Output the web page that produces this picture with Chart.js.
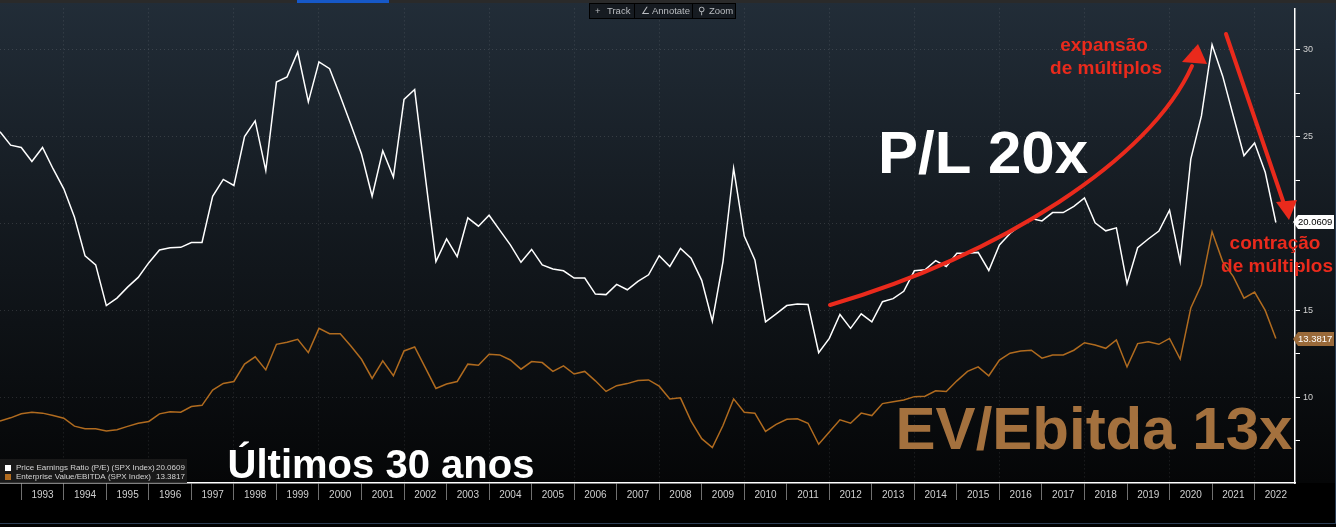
<!DOCTYPE html>
<html>
<head>
<meta charset="utf-8">
<script src="https://cdn.jsdelivr.net/npm/chart.js@4.4.1/dist/chart.umd.min.js"></script>
<style>
  html, body { margin: 0; padding: 0; background: #000; }
  canvas { display: block; }
</style>
</head>
<body>
<canvas id="multiplesChart" width="1336" height="527"></canvas>
<script>
// quarterly readings, 2Q1992 .. 2Q2022 (SPX Index)
var firstQuarter = 1992.5;
var peValues = [
  25.28, 24.51, 24.38, 23.57, 24.38, 23.14, 22.0, 20.38, 18.14, 17.62,
  15.28, 15.71, 16.34, 16.9, 17.75, 18.48, 18.61, 18.63, 18.91, 18.91,
  21.57, 22.54, 22.19, 25.0, 25.91, 23.05, 28.14, 28.44, 29.87, 27.0,
  29.3, 28.91, 27.34, 25.7, 24.0, 21.57, 24.19, 22.67, 27.14, 27.71,
  22.7, 17.81, 19.12, 18.1, 20.33, 19.85, 20.48, 19.62, 18.77, 17.77,
  18.51, 17.62, 17.39, 17.28, 16.86, 16.86, 15.94, 15.91, 16.5, 16.19,
  16.67, 17.05, 18.15, 17.53, 18.57, 18.0, 16.73, 14.38, 17.81, 23.18,
  19.28, 17.91, 14.34, 14.8, 15.28, 15.37, 15.34, 12.57, 13.39, 14.77,
  13.97, 14.8, 14.34, 15.5, 15.68, 16.1, 17.28, 17.34, 17.87, 17.53,
  18.29, 18.29, 18.34, 17.3, 18.77, 19.43, 19.91, 20.29, 20.15, 20.63,
  20.63, 20.99, 21.47, 20.04, 19.58, 19.75, 16.54, 18.61, 19.11, 19.57,
  20.77, 17.81, 23.71, 26.19, 30.29, 28.48, 26.19, 23.91, 24.63, 22.95,
  20.0609
];
var evEbitdaValues = [
  8.63, 8.82, 9.05, 9.14, 9.09, 8.95, 8.8, 8.34, 8.19, 8.19,
  8.06, 8.14, 8.33, 8.51, 8.61, 9.05, 9.17, 9.14, 9.47, 9.54,
  10.42, 10.8, 10.91, 11.91, 12.33, 11.58, 13.05, 13.17, 13.34, 12.57,
  13.97, 13.66, 13.66, 12.95, 12.19, 11.09, 12.1, 11.24, 12.67, 12.9,
  11.71, 10.51, 10.77, 10.91, 11.91, 11.85, 12.48, 12.44, 12.15, 11.62,
  12.06, 12.0, 11.49, 11.81, 11.34, 11.49, 10.95, 10.34, 10.67, 10.79,
  10.97, 11.0, 10.64, 9.91, 9.97, 8.63, 7.62, 7.11, 8.38, 9.91,
  9.14, 9.09, 8.04, 8.44, 8.74, 8.77, 8.51, 7.3, 8.0, 8.71,
  8.51, 9.09, 8.95, 9.64, 9.75, 9.85, 10.04, 10.06, 10.38, 10.34,
  10.95, 11.49, 11.75, 11.24, 12.14, 12.54, 12.67, 12.71, 12.25, 12.44,
  12.44, 12.71, 13.14, 13.01, 12.82, 13.3, 11.75, 13.09, 13.2, 13.05,
  13.39, 12.2, 15.14, 16.48, 19.53, 17.81, 16.95, 15.71, 16.06, 15.0,
  13.3817
];
var yearLabels = [1993, 1994, 1995, 1996, 1997, 1998, 1999, 2000, 2001, 2002,
  2003, 2004, 2005, 2006, 2007, 2008, 2009, 2010, 2011, 2012,
  2013, 2014, 2015, 2016, 2017, 2018, 2019, 2020, 2021, 2022];
var yTickValues = [7.5, 10, 12.5, 15, 17.5, 20, 22.5, 25, 27.5, 30];
var seriesNames = ['Price Earnings Ratio (P/E) (SPX Index)', 'Enterprise Value/EBITDA (SPX Index)'];

var WHITE = '#ffffff';
var BROWN = '#b06b1f';
var RED = '#ea2a1c';

function toPoints(values) {
  return values.map(function (v, i) { return { x: firstQuarter + i / 4, y: v }; });
}

var background = {
  id: 'background',
  beforeDraw: function (chart) {
    var c = chart.ctx;
    var bottom = chart.chartArea.bottom;
    c.save();
    c.fillStyle = '#000';
    c.fillRect(0, 0, chart.width, chart.height);
    var g = c.createLinearGradient(0, 0, 0, bottom);
    g.addColorStop(0, '#222d38');
    g.addColorStop(0.45, '#141a20');
    g.addColorStop(1, '#050607');
    c.fillStyle = g;
    c.fillRect(0, 0, chart.width, bottom);
    // frame lines of the terminal window
    c.fillStyle = '#2c3e55';
    c.fillRect(0, chart.height - 4, chart.width, 1);
    c.fillRect(chart.width - 1, 20, 1, chart.height - 24);
    c.restore();
  }
};

function arrowHead(c, tip, a, b) {
  c.beginPath();
  c.moveTo(tip[0], tip[1]);
  c.lineTo(a[0], a[1]);
  c.lineTo(b[0], b[1]);
  c.closePath();
  c.fill();
}

var overlay = {
  id: 'overlay',
  afterDraw: function (chart) {
    var c = chart.ctx;
    var ys = chart.scales.y;
    c.save();

    // top strip and toolbar
    c.fillStyle = '#2a2a2a';
    c.fillRect(0, 0, chart.width, 3);
    c.fillStyle = '#1658c8';
    c.fillRect(297, 0, 92, 3);
    c.fillStyle = '#161b21';
    c.fillRect(589, 3, 147, 16);
    c.strokeStyle = '#000';
    c.lineWidth = 1;
    c.strokeRect(589.5, 3.5, 146, 15);
    c.beginPath();
    c.moveTo(634.5, 4); c.lineTo(634.5, 18);
    c.moveTo(692.5, 4); c.lineTo(692.5, 18);
    c.stroke();
    c.fillStyle = '#b9bcc0';
    c.font = '9.5px "Liberation Sans", Arial, sans-serif';
    c.textBaseline = 'middle';
    c.textAlign = 'left';
    c.fillText('+', 595, 11);
    c.fillText('Track', 607, 11);
    c.fillText('\u2220', 641, 11);
    c.fillText('Annotate', 652, 11);
    c.fillText('\u26B2', 698, 11);
    c.fillText('Zoom', 709, 11);

    // last value tags on the axis
    var tags = [
      { v: peValues[peValues.length - 1], bg: WHITE, fg: '#000' },
      { v: evEbitdaValues[evEbitdaValues.length - 1], bg: '#9a6a3a', fg: '#fff' }
    ];
    tags.forEach(function (t) {
      var py = Math.round(ys.getPixelForValue(t.v));
      c.fillStyle = t.bg;
      c.beginPath();
      c.moveTo(1293, py);
      c.lineTo(1298, py - 7);
      c.lineTo(1334, py - 7);
      c.lineTo(1334, py + 7);
      c.lineTo(1298, py + 7);
      c.closePath();
      c.fill();
      c.fillStyle = t.fg;
      c.font = '9.5px "Liberation Sans", Arial, sans-serif';
      c.textAlign = 'left';
      c.fillText(t.v.toFixed(4), 1298, py + 0.5);
    });

    // legend box
    c.fillStyle = 'rgba(28,28,28,0.9)';
    c.fillRect(0, 459, 187, 24);
    c.font = '8px "Liberation Sans", Arial, sans-serif';
    [[WHITE, seriesNames[0], peValues[peValues.length - 1]],
     [BROWN, seriesNames[1], evEbitdaValues[evEbitdaValues.length - 1]]].forEach(function (e, i) {
      var ly = 468 + i * 9;
      c.fillStyle = e[0];
      c.fillRect(5, ly - 3, 6, 6);
      c.fillStyle = '#d4d4d4';
      c.textAlign = 'left';
      c.fillText(e[1], 16, ly);
      c.fillText(e[2].toFixed(4), 156, ly);
    });

    // big captions
    c.textAlign = 'center';
    c.textBaseline = 'alphabetic';
    c.fillStyle = WHITE;
    c.font = 'bold 60px "Liberation Sans", Arial, sans-serif';
    c.fillText('P/L 20x', 983, 173);
    c.fillStyle = '#a4713e';
    c.fillText('EV/Ebitda 13x', 1094, 449);
    c.fillStyle = WHITE;
    c.font = 'bold 40px "Liberation Sans", Arial, sans-serif';
    c.fillText('\u00daltimos 30 anos', 381, 478);

    c.fillStyle = RED;
    c.font = 'bold 19px "Liberation Sans", Arial, sans-serif';
    c.fillText('expans\u00e3o', 1104, 51);
    c.fillText('de m\u00faltiplos', 1106, 74);
    c.fillText('contra\u00e7\u00e3o', 1275, 249);
    c.fillText('de m\u00faltiplos', 1277, 272);

    // red arrows
    c.strokeStyle = RED;
    c.lineWidth = 4;
    c.lineCap = 'round';
    c.beginPath();
    c.moveTo(830, 305);
    c.bezierCurveTo(1000, 255, 1150, 160, 1192, 66);
    c.stroke();
    arrowHead(c, [1198, 44], [1182, 62], [1207, 64]);
    c.beginPath();
    c.moveTo(1226, 34);
    c.lineTo(1284, 204);
    c.stroke();
    arrowHead(c, [1289, 220], [1276, 202], [1297, 200]);

    c.restore();
  }
};

var ctx = document.getElementById('multiplesChart').getContext('2d');
var chart = new Chart(ctx, {
  type: 'line',
  data: {
    datasets: [
      {
        label: seriesNames[0],
        data: toPoints(peValues),
        borderColor: WHITE,
        borderWidth: 1.5,
        pointRadius: 0,
        tension: 0,
        order: 1
      },
      {
        label: seriesNames[1],
        data: toPoints(evEbitdaValues),
        borderColor: BROWN,
        borderWidth: 1.5,
        pointRadius: 0,
        tension: 0,
        order: 2
      }
    ]
  },
  options: {
    responsive: false,
    animation: false,
    devicePixelRatio: 1,
    layout: { padding: { top: 5, left: 0, right: 0, bottom: 0 } },
    plugins: { legend: { display: false }, tooltip: { enabled: false } },
    scales: {
      x: {
        type: 'linear',
        min: 1992.5,
        max: 2022.95,
        afterFit: function (scale) { scale.height = 44; },
        afterBuildTicks: function (scale) {
          var ticks = [];
          yearLabels.forEach(function (yr) {
            ticks.push({ value: yr });
            ticks.push({ value: yr + 0.5 });
          });
          scale.ticks = ticks;
        },
        ticks: {
          autoSkip: false,
          maxRotation: 0,
          padding: -11,
          color: '#cfcfcf',
          font: { family: '"Liberation Sans", Arial, sans-serif', size: 10 },
          callback: function (v) { return v % 1 === 0.5 ? String(Math.floor(v)) : ''; }
        },
        grid: {
          tickLength: 17,
          lineWidth: 1,
          color: function (c) {
            var v = c.tick && c.tick.value;
            return (v % 2 === 0) ? 'rgba(255,255,255,0.13)' : 'rgba(0,0,0,0)';
          },
          tickColor: function (c) {
            var v = c.tick && c.tick.value;
            return (v % 1 === 0) ? '#6f6f6f' : 'rgba(0,0,0,0)';
          }
        },
        border: { display: true, color: WHITE, width: 1.5, dash: [1, 3] }
      },
      y: {
        position: 'right',
        min: 5.07,
        max: 32.38,
        afterFit: function (scale) { scale.width = 41; },
        afterBuildTicks: function (scale) {
          scale.ticks = yTickValues.map(function (v) { return { value: v }; });
        },
        ticks: {
          padding: 3,
          color: '#d2d2d2',
          font: { family: '"Liberation Sans", Arial, sans-serif', size: 9 },
          callback: function (v) { return v % 5 === 0 ? String(v) : ''; }
        },
        grid: {
          tickLength: 5,
          color: function (c) {
            var v = c.tick && c.tick.value;
            return (v % 5 === 0) ? 'rgba(255,255,255,0.13)' : 'rgba(0,0,0,0)';
          },
          tickColor: WHITE,
          tickBorderDash: []
        },
        border: { display: true, color: WHITE, width: 1.5, dash: [1, 3] }
      }
    }
  },
  plugins: [background, overlay]
});
</script>
</body>
</html>
